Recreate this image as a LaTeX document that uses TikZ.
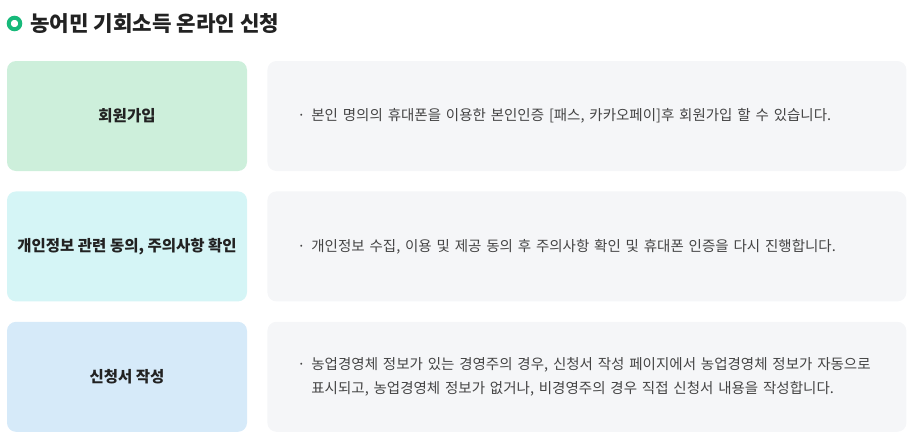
\documentclass[tikz,border=0pt]{standalone}
\usepackage{fontspec}
\setmainfont{Noto Sans CJK KR}
\usetikzlibrary{positioning}
\usepackage{xcolor}

\definecolor{markGreen}{HTML}{17B97A}
\definecolor{joinGreen}{HTML}{CDEFDB}
\definecolor{agreeCyan}{HTML}{D5F5F6}
\definecolor{formBlue}{HTML}{D6EAF9}
\definecolor{descGray}{HTML}{F5F6F8}
\definecolor{inkDark}{HTML}{222222}
\definecolor{inkGray}{HTML}{444444}

\newcommand{\bulletline}[1]{\makebox[14pt][l]{·}\parbox[t]{565pt}{#1}}

\begin{document}
\begin{tikzpicture}[x=1pt, y=-1pt, node distance=20pt,
        titledot/.style={circle, draw=markGreen, line width=4pt, fill=white, minimum size=11.5pt, inner sep=0pt},
        heading/.style={font=\fontsize{21.2}{24}\selectfont\bfseries, text=inkDark, inner sep=0pt},
        stage/.style={rectangle, rounded corners=9pt, minimum width=240pt, minimum height=110pt, text centered, font=\fontsize{15.5}{18}\selectfont\bfseries, text=inkDark},
        desc/.style={rectangle, rounded corners=9pt, fill=descGray, minimum height=110pt, text width=579pt, inner xsep=30pt, align=left, font=\fontsize{14.5}{24}\selectfont, text=inkGray}
    ]
        \useasboundingbox (0,0) rectangle (908,442);

        % Title
        \node [titledot] (dot) at (14.5,23.5) {};
        \node [heading, right=8pt of dot] (title) {농어민 기회소득 온라인 신청};

        % Steps
        \node [stage, fill=joinGreen] (join) at (127,116) {회원가입};
        \node [stage, fill=agreeCyan, below=of join] (agree) {개인정보 관련 동의, 주의사항 확인};
        \node [stage, fill=formBlue, below=of agree] (form) {신청서 작성};

        % Descriptions
        \node [desc, right=of join] (joinDesc) {\bulletline{본인 명의의 휴대폰을 이용한 본인인증 [패스, 카카오페이]후 회원가입 할 수 있습니다.}};
        \node [desc, right=of agree] (agreeDesc) {\bulletline{개인정보 수집, 이용 및 제공 동의 후 주의사항 확인 및 휴대폰 인증을 다시 진행합니다.}};
        \node [desc, right=of form] (formDesc) {\bulletline{농업경영체 정보가 있는 경영주의 경우, 신청서 작성 페이지에서 농업경영체 정보가 자동으로\\표시되고, 농업경영체 정보가 없거나, 비경영주의 경우 직접 신청서 내용을 작성합니다.}};
    \end{tikzpicture}
\end{document}
